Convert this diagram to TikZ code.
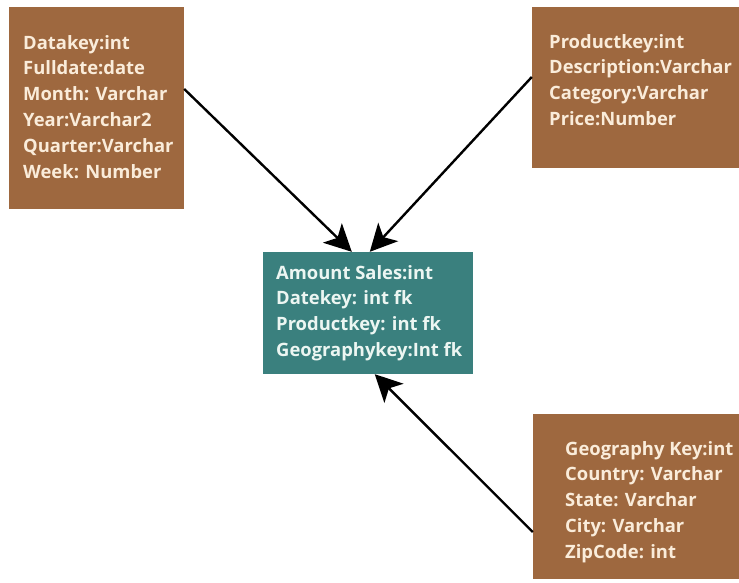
\documentclass[tikz,border=0pt]{standalone}
\usepackage{fontspec}
\setmainfont{Open Sans}
\usetikzlibrary{arrows.meta,calc}

\definecolor{dimbrown}{RGB}{158,104,63}
\definecolor{facteal}{RGB}{58,128,126}
\definecolor{creamtext}{RGB}{250,236,218}
\definecolor{paletext}{RGB}{236,246,242}

\tikzset{
  dimbox/.style={rectangle, fill=dimbrown, draw=none, inner sep=0pt},
  factbox/.style={rectangle, fill=facteal, draw=none, inner sep=0pt},
  fieldlist/.style={anchor=north west, inner sep=0pt, align=left,
    font=\fontsize{18.4}{25.8}\selectfont\bfseries},
  link/.style={line width=2.4pt, black,
    -{Stealth[length=27pt, width=27pt, inset=7pt]}}
}

\begin{document}
\begin{tikzpicture}[x=1pt, y=-1pt]
  \useasboundingbox (0,0) rectangle (739,583);
  \fill[white] (0,0) rectangle (739,583);

  % dimension tables
  \node[dimbox, minimum width=175pt, minimum height=202pt] (date) at (96.5,108) {};
  \node[dimbox, minimum width=207pt, minimum height=161pt] (prod) at (635.5,87.5) {};
  \node[dimbox, minimum width=206pt, minimum height=165pt] (geo) at (636,496.5) {};
  % fact table
  \node[factbox, minimum width=210pt, minimum height=122pt] (fact) at (368,313) {};

  % field lists
  \node[fieldlist, text=creamtext] (datetxt) at (23,35) {Datakey:int\\Fulldate:date\\Month: Varchar\\Year:Varchar2\\Quarter:Varchar\\Week: Number};
  \node[fieldlist, text=creamtext] (prodtxt) at (549,34) {Productkey:int\\Description:Varchar\\Category:Varchar\\Price:Number};
  \node[fieldlist, text=paletext] (facttxt) at (276,265) {Amount Sales:int\\Datekey: int fk\\Productkey: int fk\\Geographykey:Int fk};
  \node[fieldlist, text=creamtext] (geotxt) at (565,441) {Geography Key:int\\Country: Varchar\\State: Varchar\\City: Varchar\\ZipCode: int};

  % relationships
  \draw[link] ($(date.east)+(0,-19)$) -- ($(fact.north west)+(89,0)$);
  \draw[link] ($(prod.west)+(0,-10.5)$) -- ($(fact.north west)+(107,0)$);
  \draw[link] ($(geo.west)+(0,35.5)$) -- ($(fact.south west)+(112,0)$);
\end{tikzpicture}
\end{document}
